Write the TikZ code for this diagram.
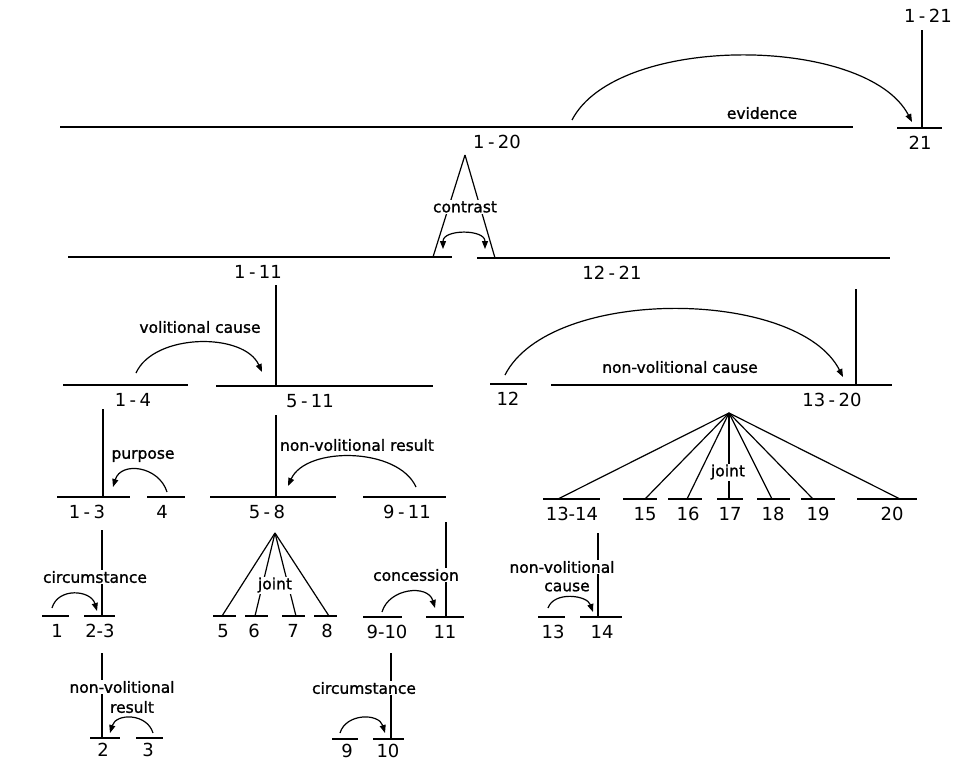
\documentclass[tikz,border=0pt]{standalone}
\usepackage{fontspec}
\newfontfamily\relfont{DejaVu Sans}[FakeBold=1.2]
\newfontfamily\numfont{DejaVu Sans}[WordSpace=0.6]
\usetikzlibrary{arrows.meta}
\tikzset{
  seg/.style={line width=1.6pt},
  nuc/.style={line width=1.4pt},
  fan/.style={line width=1.2pt},
  arr/.style={line width=1.2pt,-{Triangle[length=8pt,width=6pt]}},
  darr/.style={line width=1.2pt,{Triangle[length=8pt,width=6pt]}-{Triangle[length=8pt,width=6pt]}},
  rel/.style={font=\relfont\fontsize{15.5}{17}\selectfont, fill=white, inner sep=1pt},
  num/.style={font=\numfont\fontsize{18}{20}\selectfont, inner sep=0pt}
}
% segment: name, x1, x2, y, label x, label text
\newcommand\segm[6]{%
  \coordinate (#1-l) at (#2,#4);
  \coordinate (#1-r) at (#3,#4);
  \draw[seg] (#1-l) -- (#1-r);
  \node[num] (#1) at (#5,#4+15) {#6};}
% bottom-row segment: label a little closer to its line
\newcommand\segmb[6]{%
  \coordinate (#1-l) at (#2,#4);
  \coordinate (#1-r) at (#3,#4);
  \draw[seg] (#1-l) -- (#1-r);
  \node[num] (#1) at (#5,#4+12) {#6};}
% relation arc: start, end, control height, control dx
\newcommand\relarc[4]{\draw[arr] (#1) .. controls +(#4,-#3) and +(-#4,-#3) .. (#2);}
\begin{document}
\begin{tikzpicture}[x=1pt,y=-1pt]
\useasboundingbox (0,0) rectangle (954,763);

% ---------- segments ----------
\segm{s21}{897}{942}{128}{920}{21}
\segm{s120}{60}{853}{127}{497}{1 - 20}
\segm{s111}{68}{452}{257}{258}{1 - 11}
\segm{s1221}{477}{890}{258}{612}{12 - 21}
\segm{s14}{63}{188}{385}{133}{1 - 4}
\segm{s511}{216}{433}{386}{310}{5 - 11}
\segm{s12}{490}{527}{384}{508}{12}
\segm{s1320}{551}{892}{385}{832}{13 - 20}
\segm{s13}{57}{130}{497}{87}{1 - 3}
\segm{s4}{147}{185}{497}{162}{4}
\segm{s58}{210}{336}{497}{267}{5 - 8}
\segm{s911}{363}{446}{497}{407}{9 - 11}
\segm{s1314}{543}{600}{499}{572}{13-14}
\segm{s15}{623}{657}{499}{645}{15}
\segm{s16}{668}{702}{499}{688}{16}
\segm{s17}{717}{743}{499}{730}{17}
\segm{s18}{757}{790}{499}{773}{18}
\segm{s19}{801}{835}{499}{818}{19}
\segm{s20}{857}{917}{499}{892}{20}
\segm{s1}{42}{69}{616}{57}{1}
\segm{s23}{84}{115}{616}{100}{2-3}
\segm{s5}{213}{236}{616}{223}{5}
\segm{s6}{245}{268}{616}{254}{6}
\segm{s7}{282}{305}{616}{293}{7}
\segm{s8}{314}{337}{616}{327}{8}
\segm{s910}{363}{402}{617}{387}{9-10}
\segm{s11}{426}{464}{617}{445}{11}
\segm{s13b}{538}{565}{617}{553}{13}
\segm{s14b}{580}{622}{617}{602}{14}
\segmb{s2}{90}{120}{738}{103}{2}
\segmb{s3}{136}{163}{738}{148}{3}
\segmb{s9}{332}{358}{739}{347}{9}
\segmb{s10}{373}{404}{739}{388}{10}

% ---------- nucleus verticals ----------
\node[num, anchor=east] (top) at (952,16) {1 - 21};
\coordinate (t21) at (922,30);
\draw[nuc] (t21) -- (t21 |- s21-l);
\coordinate (t111) at (276,285);
\draw[nuc] (t111) -- (t111 |- s511-l);
\coordinate (t1221) at (856,289);
\draw[nuc] (t1221) -- (t1221 |- s1320-l);
\coordinate (t14) at (103,409);
\draw[nuc] (t14) -- (t14 |- s13-l);
\coordinate (t511) at (276,415);
\draw[nuc] (t511) -- (t511 |- s58-l);
\coordinate (t13) at (102,530);
\draw[nuc] (t13) -- (t13 |- s23-l);
\coordinate (t23) at (102,653);
\draw[nuc] (t23) -- (t23 |- s2-l);
\coordinate (t911) at (446,522);
\draw[nuc] (t911) -- (t911 |- s11-l);
\coordinate (t910) at (391,653);
\draw[nuc] (t910) -- (t910 |- s10-l);
\coordinate (t1314) at (598,533);
\draw[nuc] (t1314) -- (t1314 |- s14b-l);

% ---------- multinuclear fans ----------
\coordinate (apC) at (465,155);
\coordinate (cL) at (433,257);
\coordinate (cR) at (495,258);
\draw[fan] (apC) -- (cL);
\draw[fan] (apC) -- (cR);

\coordinate (apJ1) at (729,413);
\foreach \n/\x in {s1314/558, s15/645, s16/687, s17/729, s18/772, s19/813, s20/900}
  \draw[fan] (apJ1) -- (\x,499);

\coordinate (apJ2) at (275,533);
\foreach \n/\x in {s5/222, s6/255, s7/296, s8/329}
  \draw[fan] (apJ2) -- (\x,616);

% ---------- relation arcs ----------
\coordinate (evS) at (572,120);  \coordinate (evE) at (912,122);
\relarc{evS}{evE}{87}{45}
\coordinate (coS) at (443,249);  \coordinate (coE) at (485,249);
\draw[darr] (coS) .. controls +(0,-20) and +(0,-20) .. (coE);
\coordinate (vcS) at (136,373);  \coordinate (vcE) at (262,372);
\relarc{vcS}{vcE}{40}{18}
\coordinate (nvcS) at (505,375); \coordinate (nvcE) at (843,377);
\relarc{nvcS}{nvcE}{89}{45}
\coordinate (puS) at (167,492);  \coordinate (puE) at (113,487);
\relarc{puS}{puE}{26}{-8}
\coordinate (nvrS) at (416,487); \coordinate (nvrE) at (288,486);
\relarc{nvrS}{nvrE}{40}{-18}
\coordinate (ciS) at (52,608);   \coordinate (ciE) at (97,611);
\relarc{ciS}{ciE}{21}{6}
\coordinate (nr2S) at (153,733); \coordinate (nr2E) at (110,733);
\relarc{nr2S}{nr2E}{20}{-6}
\coordinate (cnS) at (382,612);  \coordinate (cnE) at (435,608);
\relarc{cnS}{cnE}{24}{7}
\coordinate (ci2S) at (340,733); \coordinate (ci2E) at (385,733);
\relarc{ci2S}{ci2E}{20}{6}
\coordinate (nc2S) at (548,608); \coordinate (nc2E) at (593,612);
\relarc{nc2S}{nc2E}{17}{6}

% ---------- relation labels ----------
\node[rel] (lev) at (762,113) {evidence};
\node[rel] (lco) at (465,207) {contrast};
\node[rel] (lvc) at (200,327) {volitional cause};
\node[rel] (lnvc) at (680,367) {non-volitional cause};
\node[rel] (lpu) at (143,456) {purpose};
\node[rel] (lnvr) at (357,445) {non-volitional result};
\node[rel] (lci) at (95,577) {circumstance};
\node[rel] (lj2) at (275,585) {joint};
\node[rel] (lcn) at (416,575) {concession};
\node[rel] (lj1) at (728,472) {joint};
\node[rel] (lnc2a) at (562,567) {non-volitional};
\node[rel] (lnc2b) at (567,587) {cause};
\node[rel] (lnr2a) at (122,687) {non-volitional};
\node[rel] (lnr2b) at (132,707) {result};
\node[rel] (lci2) at (364,688) {circumstance};
\end{tikzpicture}
\end{document}
